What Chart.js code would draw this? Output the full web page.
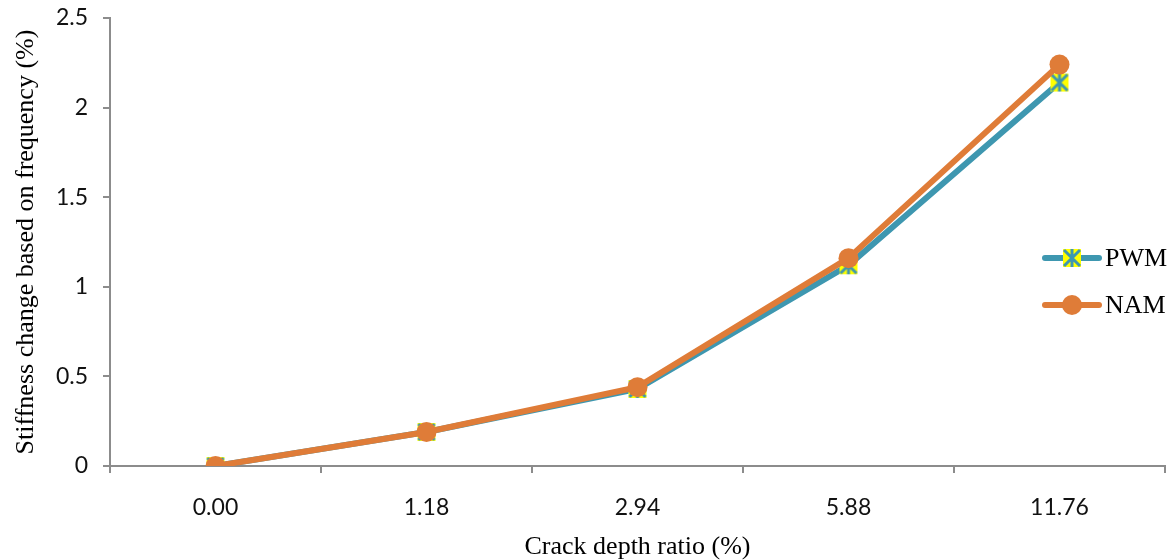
<!DOCTYPE html>
<html>
<head>
<meta charset="utf-8">
<script src="https://cdn.jsdelivr.net/npm/chart.js@4.4.1/dist/chart.umd.min.js"></script>
<style>
html,body{margin:0;padding:0;background:#fff;}
canvas{display:block;}
</style>
</head>
<body>
<canvas id="c" width="1170" height="560"></canvas>
<script>
const categories = ['0.00', '1.18', '2.94', '5.88', '11.76'];
const pwmValues = [0, 0.19, 0.43, 1.12, 2.14];
const namValues = [0, 0.19, 0.44, 1.16, 2.24];
const seriesNames = ['PWM', 'NAM'];
const yTickValues = [0, 0.5, 1, 1.5, 2, 2.5];
const xTitle = 'Crack depth ratio (%)';
const yTitle = 'Stiffness change based on frequency (%)';

const TEAL = '#3E97B0';
const ORANGE = '#DF7C38';
const AXIS = '#8C8C8C';
const TICK_FONT = { family: 'Lato, "Open Sans", sans-serif', size: 23 };
const TITLE_FONT = { family: '"Liberation Serif", "Times New Roman", serif', size: 26 };

function starMarker() {
  const s = 20;
  const cv = document.createElement('canvas');
  cv.width = s; cv.height = s;
  const g = cv.getContext('2d');
  g.fillStyle = '#FFFF00';
  g.fillRect(1, 1, s - 2, s - 2);
  g.strokeStyle = TEAL;
  g.lineWidth = 3;
  g.beginPath();
  g.moveTo(2, 2); g.lineTo(s - 2, s - 2);
  g.moveTo(s - 2, 2); g.lineTo(2, s - 2);
  g.moveTo(s / 2, 1); g.lineTo(s / 2, s - 1);
  g.stroke();
  return cv;
}
const pwmMarker = starMarker();

const legendPlugin = {
  id: 'sideLegend',
  afterDraw(chart) {
    const ctx = chart.ctx;
    const ca = chart.chartArea;
    const x0 = ca.right - 120;
    const mid = (ca.top + ca.bottom) / 2;
    const ys = [mid + 16, mid + 63];
    chart.data.datasets.forEach((ds, i) => {
      const y = ys[i];
      ctx.save();
      ctx.strokeStyle = ds.borderColor;
      ctx.lineWidth = ds.borderWidth;
      ctx.lineCap = 'round';
      ctx.beginPath();
      ctx.moveTo(x0, y);
      ctx.lineTo(x0 + 54, y);
      ctx.stroke();
      const cx = x0 + 27;
      if (ds.pointStyle === 'circle') {
        ctx.fillStyle = ds.pointBackgroundColor;
        ctx.beginPath();
        ctx.arc(cx, y, ds.pointRadius, 0, Math.PI * 2);
        ctx.fill();
      } else {
        const img = ds.pointStyle;
        ctx.drawImage(img, cx - img.width / 2, y - img.height / 2);
      }
      ctx.fillStyle = '#000';
      ctx.font = '26px "Liberation Serif", "Times New Roman", serif';
      ctx.textBaseline = 'middle';
      ctx.textAlign = 'left';
      ctx.fillText(ds.label, x0 + 60, y + 1);
      ctx.restore();
    });
  }
};

new Chart(document.getElementById('c'), {
  type: 'line',
  data: {
    labels: categories,
    datasets: [
      {
        label: seriesNames[0],
        data: pwmValues,
        borderColor: TEAL,
        backgroundColor: TEAL,
        borderWidth: 6,
        tension: 0,
        pointStyle: pwmMarker,
        pointRadius: 10,
        pointBackgroundColor: '#FFFF00',
        order: 1
      },
      {
        label: seriesNames[1],
        data: namValues,
        borderColor: ORANGE,
        backgroundColor: ORANGE,
        borderWidth: 6,
        tension: 0,
        pointStyle: 'circle',
        pointRadius: 10,
        pointBorderWidth: 0,
        pointBackgroundColor: ORANGE,
        order: 0
      }
    ]
  },
  options: {
    responsive: false,
    animation: false,
    layout: { autoPadding: false, padding: { left: 0, top: 18, right: 5, bottom: 0 } },
    plugins: {
      legend: { display: false },
      tooltip: { enabled: false }
    },
    scales: {
      x: {
        type: 'category',
        offset: true,
        afterFit(scale) {
          scale.height = 94;
          scale.paddingLeft = 0; scale.paddingRight = 0;
          scale.paddingTop = 0; scale.paddingBottom = 0;
        },
        grid: {
          display: true,
          drawOnChartArea: false,
          drawTicks: true,
          tickLength: 7,
          color: AXIS,
          lineWidth: 2,
          offset: true
        },
        border: { display: true, color: AXIS, width: 2 },
        ticks: {
          color: '#111',
          font: TICK_FONT,
          padding: 21,
          maxRotation: 0
        },
        title: {
          display: true,
          text: xTitle,
          color: '#000',
          font: TITLE_FONT,
          padding: { top: 0, bottom: -3 }
        }
      },
      y: {
        min: yTickValues[0],
        max: yTickValues[yTickValues.length - 1],
        afterFit(scale) {
          scale.width = 110;
          scale.paddingTop = 0; scale.paddingBottom = 0;
          scale.paddingLeft = 0; scale.paddingRight = 0;
        },
        afterBuildTicks(scale) {
          scale.ticks = yTickValues.map(v => ({ value: v }));
        },
        ticks: {
          color: '#111',
          font: TICK_FONT,
          padding: 15,
          callback: v => String(v)
        },
        grid: {
          display: true,
          drawOnChartArea: false,
          drawTicks: true,
          tickLength: 7,
          color: AXIS,
          lineWidth: 2
        },
        border: { display: true, color: AXIS, width: 2 },
        title: {
          display: true,
          text: yTitle,
          color: '#000',
          font: TITLE_FONT,
          padding: { top: 11, bottom: 0 }
        }
      }
    }
  },
  plugins: [legendPlugin]
});
</script>
</body>
</html>
